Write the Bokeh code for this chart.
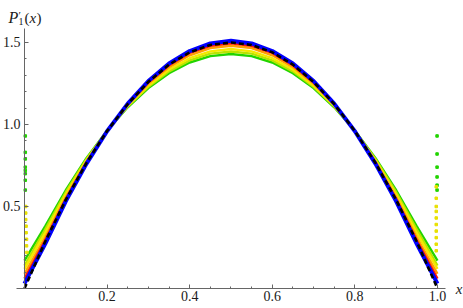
from bokeh.plotting import figure
from bokeh.models import Range1d, LinearAxis, FixedTicker, Label
from bokeh.core.properties import value
from bokeh.embed import file_html
from bokeh.resources import INLINE

# ---- data ----
x_vals = [0.0, 0.05, 0.1, 0.15, 0.2, 0.25, 0.3, 0.35, 0.4, 0.45, 0.5,
          0.55, 0.6, 0.65, 0.7, 0.75, 0.8, 0.85, 0.9, 0.95, 1.0]

green = [0.17, 0.379, 0.599, 0.794, 0.962, 1.105, 1.222, 1.313, 1.378, 1.417, 1.43,
         1.417, 1.378, 1.313, 1.222, 1.105, 0.962, 0.794, 0.599, 0.379, 0.17]
yellowgreen = [0.14, 0.359, 0.587, 0.788, 0.962, 1.110, 1.230, 1.324, 1.391, 1.432, 1.445,
               1.432, 1.391, 1.324, 1.230, 1.110, 0.962, 0.788, 0.587, 0.359, 0.14]
yellow = [0.12, 0.338, 0.573, 0.781, 0.961, 1.113, 1.238, 1.335, 1.404, 1.446, 1.46,
          1.446, 1.404, 1.335, 1.238, 1.113, 0.961, 0.781, 0.573, 0.338, 0.12]
orange = [0.09, 0.311, 0.556, 0.773, 0.961, 1.119, 1.249, 1.350, 1.422, 1.466, 1.48,
          1.466, 1.422, 1.350, 1.249, 1.119, 0.961, 0.773, 0.556, 0.311, 0.09]
red = [0.06, 0.292, 0.545, 0.767, 0.960, 1.124, 1.257, 1.361, 1.436, 1.480, 1.495,
       1.480, 1.436, 1.361, 1.257, 1.124, 0.960, 0.767, 0.545, 0.292, 0.06]
blue = [0.03, 0.271, 0.531, 0.760, 0.959, 1.127, 1.265, 1.372, 1.448, 1.494, 1.51,
        1.494, 1.448, 1.372, 1.265, 1.127, 0.959, 0.760, 0.531, 0.271, 0.03]
exact = [0.0, 0.285, 0.54, 0.765, 0.96, 1.125, 1.26, 1.365, 1.44, 1.485, 1.5,
         1.485, 1.44, 1.365, 1.26, 1.125, 0.96, 0.765, 0.54, 0.285, 0.0]

# scattered boundary points
green_edge_x = [0.002, 0.002, 0.002, 0.002, 0.002, 0.002, 0.002, 0.002,
                0.999, 0.999, 0.999, 0.999, 0.999, 0.999]
green_edge_y = [0.60, 0.66, 0.70, 0.72, 0.74, 0.79, 0.83, 0.93,
                0.60, 0.63, 0.68, 0.74, 0.82, 0.93]
yellow_edge_x = [0.003, 0.003, 0.003, 0.004, 0.004, 0.005, 0.005, 0.006,
                 0.997, 0.997, 0.997, 0.997, 0.997, 0.997, 0.997, 0.997, 0.997, 0.997]
yellow_edge_y = [0.50, 0.46, 0.42, 0.38, 0.34, 0.30, 0.26, 0.22,
                 0.23, 0.27, 0.31, 0.35, 0.39, 0.43, 0.47, 0.50, 0.55, 0.62]

x_ticks = [0.2, 0.4, 0.6, 0.8, 1.0]
x_tick_labels = ["0.2", "0.4", "0.6", "0.8", "1.0"]
x_minor = [0.05, 0.1, 0.15, 0.25, 0.3, 0.35, 0.45, 0.5, 0.55, 0.65, 0.7, 0.75,
           0.85, 0.9, 0.95]
y_ticks = [0.5, 1.0, 1.5]
y_tick_labels = ["0.5", "1.0", "1.5"]
y_minor = [0.1, 0.2, 0.3, 0.4, 0.6, 0.7, 0.8, 0.9, 1.1, 1.2, 1.3, 1.4]

FONT = "Liberation Serif"
AXIS_COLOR = "#666666"
TEXT_COLOR = "#1a1a1a"

p = figure(width=463, height=308, x_range=Range1d(-0.058, 1.063),
           y_range=Range1d(-0.122, 1.756),
           output_backend="svg", toolbar_location=None,
           x_axis_type=None, y_axis_type=None,
           min_border_top=0, min_border_right=0, min_border_left=0, min_border_bottom=0)
p.outline_line_color = None
p.background_fill_color = "white"
p.border_fill_color = "white"


def style_axis(ax, ticks, minor, bounds):
    ax.ticker = FixedTicker(ticks=ticks, minor_ticks=minor)
    ax.fixed_location = 0
    ax.bounds = bounds
    ax.axis_line_color = AXIS_COLOR
    ax.major_tick_line_color = AXIS_COLOR
    ax.minor_tick_line_color = AXIS_COLOR
    ax.major_tick_in = 4
    ax.major_tick_out = 0
    ax.minor_tick_in = 2
    ax.minor_tick_out = 0
    ax.major_label_text_font_size = "1px"
    ax.major_label_text_alpha = 0
    ax.major_label_standoff = 0


xa = LinearAxis()
style_axis(xa, x_ticks, x_minor, (-0.02, 1.02))
p.add_layout(xa, "below")
ya = LinearAxis()
style_axis(ya, y_ticks, y_minor, (0, 1.585))
p.add_layout(ya, "left")

# tick labels through the data scales
p.text(x=x_ticks, y=[0] * len(x_ticks), text=x_tick_labels, y_offset=3,
       text_font=value(FONT), text_font_size="14px", text_color=TEXT_COLOR,
       text_align="center", text_baseline="top")
p.text(x=[0] * len(y_ticks), y=y_ticks, text=y_tick_labels, x_offset=-4,
       text_font=value(FONT), text_font_size="14px", text_color=TEXT_COLOR,
       text_align="right", text_baseline="middle")

series = [
    (green, "#22d400"),
    (yellowgreen, "#b8e400"),
    (yellow, "#f5e800"),
    (orange, "#ff9e00"),
    (red, "#ff1a00"),
]
for vals, col in series:
    p.line(x_vals, vals, line_color=col, line_width=2.4)

p.scatter(green_edge_x, green_edge_y, size=2.5, color="#22d400", marker="square")
p.scatter(yellow_edge_x, yellow_edge_y, size=2.5, color="#e8e000", marker="square")

p.line(x_vals, blue, line_color="#0000ff", line_width=4)
p.line(x_vals, exact, line_color="black", line_width=2.6, line_dash="5 3")


def lab(text, dx, dy, size="15px", style="normal", x=0, y=1.585, baseline="alphabetic"):
    p.add_layout(Label(x=x, y=y, text=text, x_offset=dx, y_offset=dy,
                       text_font=FONT, text_font_size=size, text_font_style=style,
                       text_color=TEXT_COLOR, text_baseline=baseline))


lab("P", -16, 11, size="16px", style="italic")
lab("\u2032", -6, 14, size="11px")
lab("1", -6, 7, size="10px")
lab("(", 0, 11)
lab("x", 5, 11, style="italic")
lab(")", 12, 11)
lab("x", 10, -1, style="italic", x=1.02, y=0, baseline="middle")

open("out.html", "w").write(file_html(p, INLINE))
